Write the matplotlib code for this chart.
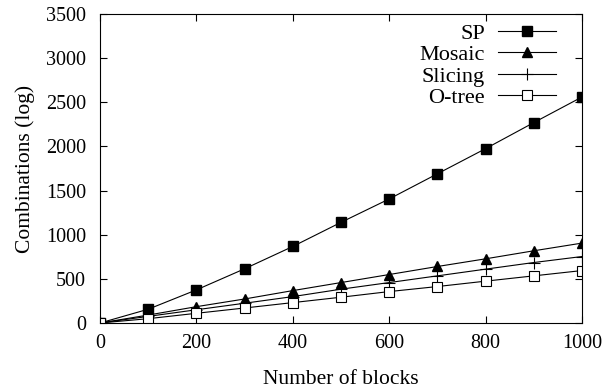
import matplotlib
matplotlib.use("Agg")
import matplotlib.pyplot as plt

blocks = [0, 100, 200, 300, 400, 500, 600, 700, 800, 900, 1000]
sp = [0, 156, 375, 614, 867, 1140, 1405, 1690, 1975, 2270, 2560]
mosaic = [0, 90, 185, 272, 367, 458, 549, 640, 727, 818, 905]
slicing = [0, 75, 150, 224, 299, 383, 458, 534, 610, 685, 753]
otree = [0, 49, 110, 170, 231, 292, 356, 413, 474, 534, 594]

plt.rcParams['font.family'] = ['Liberation Serif', 'DejaVu Serif']
plt.rcParams['font.size'] = 14.5

fig = plt.figure(figsize=(6.03, 3.92), dpi=100)
ax = fig.add_axes([100/603, 1-323/392, 482/603, 309/392])

kw = dict(color='black', lw=0.8)
ax.plot(blocks, sp, marker='s', ms=6.5, mfc='black', mec='black', label='SP', **kw)
ax.plot(blocks, mosaic, marker='^', ms=6.5, mfc='black', mec='black', label='Mosaic', **kw)
ax.plot(blocks, slicing, marker='+', ms=8, mew=0.8, label='Slicing', **kw)
ax.plot(blocks, otree, marker='s', ms=6.5, mfc='white', mec='black', mew=0.8, label='O-tree', **kw)

ax.set_xlim(0, 1000)
ax.set_ylim(0, 3500)
ax.set_xticks(range(0, 1001, 200))
ax.set_yticks(range(0, 3501, 500))
ax.tick_params(direction='in', top=True, right=True, length=5, width=0.8, labelsize=14.5)
ax.tick_params(axis='y', pad=10)
ax.tick_params(axis='x', pad=8)
for s in ax.spines.values():
    s.set_linewidth(0.8)

ax.set_xlabel('Number of blocks', fontsize=15.5, labelpad=12)
ax.set_ylabel('Combinations (log)', fontsize=15.5, labelpad=8)

ax.legend(loc='upper right', bbox_to_anchor=(0.955, 0.985), frameon=False, markerfirst=False,
          fontsize=16, handlelength=2.6, labelspacing=0.04, handletextpad=0.6, borderaxespad=0.0,
          borderpad=0.2)

fig.savefig('out.png', dpi=100)
